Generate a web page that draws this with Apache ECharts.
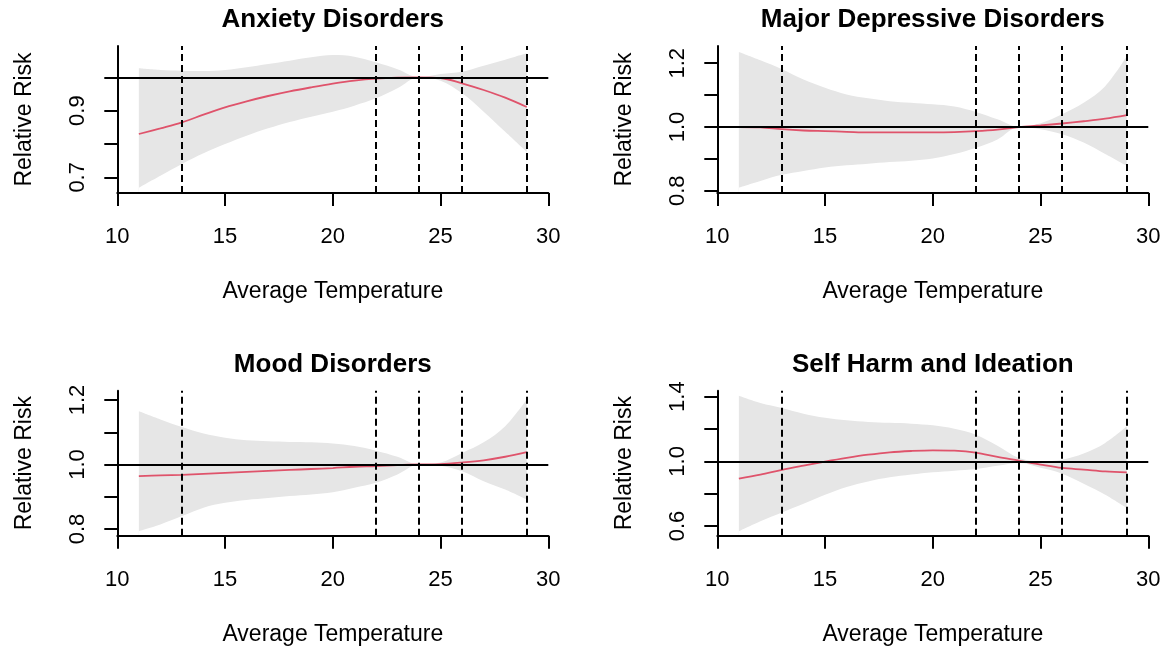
<!DOCTYPE html>
<html>
<head>
<meta charset="utf-8">
<script src="https://cdn.jsdelivr.net/npm/echarts@6/dist/echarts.min.js"></script>
<style>
  html, body { margin: 0; padding: 0; background: #ffffff; }
  #chart { width: 1168px; height: 649px; }
</style>
</head>
<body>
<div id="chart"></div>
<script>
// Exposure-response curves: relative risk by average temperature, with 95% CI
const temperature = [11, 12, 13, 14, 15, 16, 17, 18, 19, 20, 21, 22, 23, 24, 25, 26, 27, 28, 29];

const anxietyRR   = [0.830, 0.847, 0.865, 0.888, 0.910, 0.928, 0.944, 0.958, 0.970, 0.981, 0.990, 0.996, 0.999, 1.000, 0.998, 0.982, 0.962, 0.939, 0.911];
const anxietyLow  = [0.669, 0.705, 0.740, 0.772, 0.800, 0.825, 0.847, 0.866, 0.882, 0.897, 0.915, 0.937, 0.967, 1.000, 0.990, 0.952, 0.897, 0.837, 0.777];
const anxietyHigh = [1.027, 1.022, 1.020, 1.019, 1.022, 1.030, 1.040, 1.050, 1.060, 1.067, 1.062, 1.045, 1.024, 1.000, 1.010, 1.017, 1.035, 1.053, 1.072];

const depressionRR   = [1.000, 0.999, 0.993, 0.989, 0.987, 0.985, 0.983, 0.983, 0.983, 0.983, 0.984, 0.987, 0.992, 1.000, 1.005, 1.011, 1.018, 1.026, 1.037];
const depressionLow  = [0.810, 0.831, 0.850, 0.862, 0.873, 0.880, 0.885, 0.890, 0.894, 0.901, 0.915, 0.935, 0.961, 1.000, 0.993, 0.977, 0.951, 0.915, 0.878];
const depressionHigh = [1.235, 1.209, 1.181, 1.149, 1.123, 1.102, 1.090, 1.081, 1.076, 1.071, 1.064, 1.047, 1.024, 1.000, 1.012, 1.040, 1.076, 1.128, 1.222];

const moodRR   = [0.964, 0.966, 0.968, 0.971, 0.974, 0.977, 0.980, 0.983, 0.986, 0.989, 0.993, 0.995, 0.998, 1.000, 1.001, 1.006, 1.013, 1.024, 1.038];
const moodLow  = [0.793, 0.814, 0.840, 0.866, 0.881, 0.890, 0.896, 0.902, 0.907, 0.914, 0.928, 0.943, 0.969, 1.000, 0.996, 0.979, 0.948, 0.922, 0.891];
const moodHigh = [1.165, 1.140, 1.116, 1.096, 1.083, 1.075, 1.072, 1.070, 1.069, 1.065, 1.057, 1.043, 1.024, 1.000, 1.006, 1.036, 1.069, 1.119, 1.202];

const selfHarmRR   = [0.893, 0.918, 0.947, 0.973, 0.998, 1.021, 1.041, 1.056, 1.064, 1.068, 1.066, 1.054, 1.027, 1.004, 0.980, 0.959, 0.949, 0.938, 0.932];
const selfHarmLow  = [0.567, 0.629, 0.684, 0.738, 0.794, 0.842, 0.876, 0.901, 0.918, 0.932, 0.942, 0.953, 0.973, 0.990, 0.960, 0.924, 0.862, 0.794, 0.712];
const selfHarmHigh = [1.406, 1.361, 1.330, 1.295, 1.269, 1.254, 1.244, 1.238, 1.233, 1.223, 1.202, 1.165, 1.097, 1.021, 1.000, 1.010, 1.048, 1.114, 1.217];

// Knot / reference temperatures marked with dashed lines
const knotTemps = [13, 22, 24, 26, 29];
const referenceRR = 1;

const panelTitles = ['Anxiety Disorders', 'Major Depressive Disorders', 'Mood Disorders', 'Self Harm and Ideation'];
const yTickValues = [
  [0.7, 0.8, 0.9, 1.0],
  [0.8, 0.9, 1.0, 1.1, 1.2],
  [0.8, 0.9, 1.0, 1.1, 1.2],
  [0.6, 0.8, 1.0, 1.2, 1.4]
];
const yLabelValues = [
  [0.7, 0.9],
  [0.8, 1.0, 1.2],
  [0.8, 1.0, 1.2],
  [0.6, 1.0, 1.4]
];
const yLimits = [[0.653, 1.094], [0.793, 1.254], [0.779, 1.229], [0.540, 1.437]];
const xLimits = [10, 30];

const panels = [
  { rr: anxietyRR, low: anxietyLow, high: anxietyHigh },
  { rr: depressionRR, low: depressionLow, high: depressionHigh },
  { rr: moodRR, low: moodLow, high: moodHigh },
  { rr: selfHarmRR, low: selfHarmLow, high: selfHarmHigh }
];

// Plot-region placement for the 2x2 layout
const gridBoxes = [
  { left: 117.3, top: 46,    width: 431, height: 147 },
  { left: 717.3, top: 46,    width: 431, height: 147 },
  { left: 117.3, top: 390.7, width: 431, height: 145 },
  { left: 717.3, top: 390.7, width: 431, height: 145 }
];

const FONT = '"Liberation Sans", Arial, Helvetica, sans-serif';
const BAND = '#E6E6E6';
const CURVE = '#DF536B';
const SMOOTH = 0.35;

const chart = echarts.init(document.getElementById('chart'), null, { renderer: 'canvas' });

const grid = [], xAxis = [], yAxis = [], series = [], title = [];

panels.forEach((p, i) => {
  const g = gridBoxes[i];
  grid.push({ left: g.left, top: g.top, width: g.width, height: g.height, containLabel: false });

  title.push({
    text: panelTitles[i],
    left: g.left + g.width / 2,
    top: g.top - 39,
    textAlign: 'center',
    padding: 0,
    textStyle: { fontFamily: FONT, fontWeight: 'bold', fontSize: 26, color: '#000' }
  });

  xAxis.push({
    type: 'value', gridIndex: i, min: xLimits[0], max: xLimits[1], interval: 5, z: 6,
    name: 'Average Temperature', nameLocation: 'middle', nameGap: 87,
    nameTextStyle: { fontFamily: FONT, fontSize: 23, color: '#000' },
    axisLine: { show: true, onZero: false, lineStyle: { color: '#000', width: 2 } },
    axisTick: { show: true, inside: false, length: 13, lineStyle: { color: '#000', width: 2 } },
    axisLabel: { show: true, margin: 33, fontFamily: FONT, fontSize: 22, color: '#000' },
    splitLine: { show: false }
  });

  yAxis.push({
    type: 'value', gridIndex: i, min: yLimits[i][0], max: yLimits[i][1], z: 6,
    name: 'Relative Risk', nameLocation: 'middle', nameRotate: 90, nameGap: 81,
    nameTextStyle: { fontFamily: FONT, fontSize: 23, color: '#000' },
    axisLine: { show: true, onZero: false, lineStyle: { color: '#000', width: 2 } },
    axisTick: { show: true, inside: false, length: 13, customValues: yTickValues[i],
                lineStyle: { color: '#000', width: 2 } },
    axisLabel: { show: true, rotate: 90, margin: 28, customValues: yLabelValues[i],
                 fontFamily: FONT, fontSize: 22, color: '#000',
                 formatter: v => Number(v).toFixed(1) },
    splitLine: { show: false }
  });

  // CI band: grey fill under the upper bound, then white fill under the lower bound
  series.push({
    type: 'line', xAxisIndex: i, yAxisIndex: i, smooth: SMOOTH,
    symbol: 'none', silent: true, z: 1,
    lineStyle: { width: 0, opacity: 0 },
    areaStyle: { color: BAND, opacity: 1, origin: 'start' },
    data: temperature.map((t, k) => [t, p.high[k]])
  });
  series.push({
    type: 'line', xAxisIndex: i, yAxisIndex: i, smooth: SMOOTH,
    symbol: 'none', silent: true, z: 2,
    lineStyle: { width: 0, opacity: 0 },
    areaStyle: { color: '#ffffff', opacity: 1, origin: 'start' },
    data: temperature.map((t, k) => [t, p.low[k]])
  });
  // reference line at RR = 1
  series.push({
    type: 'line', xAxisIndex: i, yAxisIndex: i, symbol: 'none', silent: true, z: 3,
    data: [],
    markLine: {
      silent: true, symbol: ['none', 'none'], label: { show: false },
      lineStyle: { color: '#000', width: 2, type: 'solid' },
      emphasis: { disabled: true },
      data: [{ yAxis: referenceRR }]
    }
  });
  // relative-risk curve
  series.push({
    type: 'line', xAxisIndex: i, yAxisIndex: i, smooth: SMOOTH,
    symbol: 'none', silent: true, z: 4,
    lineStyle: { color: CURVE, width: 1.8 },
    data: temperature.map((t, k) => [t, p.rr[k]])
  });
  // dashed knot markers
  series.push({
    type: 'line', xAxisIndex: i, yAxisIndex: i, symbol: 'none', silent: true, z: 5,
    data: [],
    markLine: {
      silent: true, symbol: ['none', 'none'], label: { show: false },
      lineStyle: { color: '#000', width: 2, type: [7, 4] },
      emphasis: { disabled: true },
      data: knotTemps.map(v => ({ xAxis: v }))
    }
  });
});

chart.setOption({
  animation: false,
  backgroundColor: '#ffffff',
  title, grid, xAxis, yAxis, series
});
</script>
</body>
</html>
